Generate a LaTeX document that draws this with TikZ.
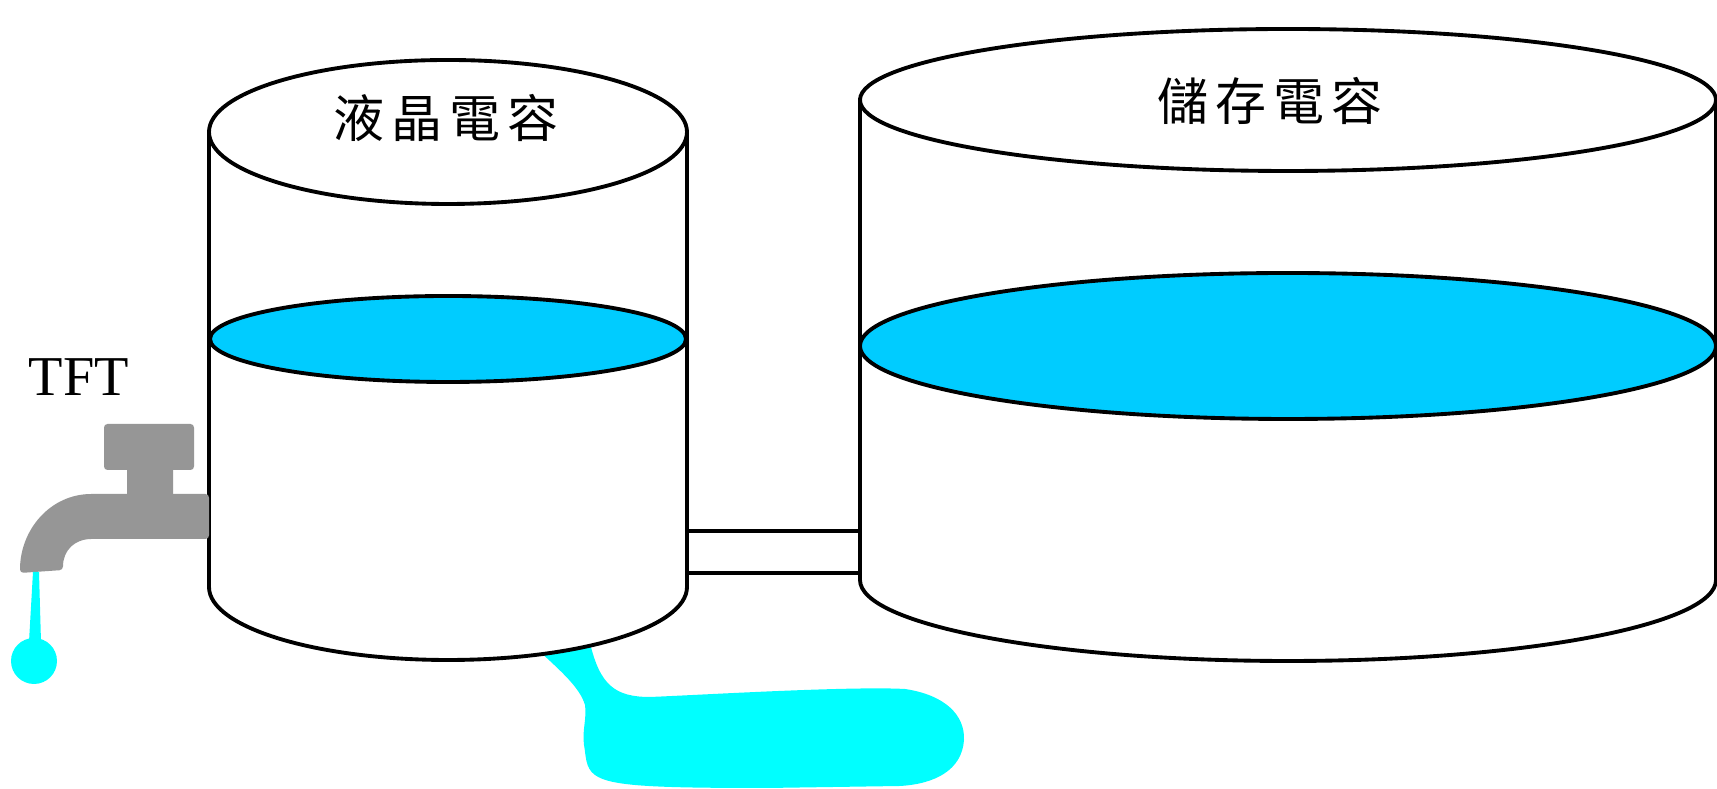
\documentclass[tikz,border=0pt]{standalone}
\usepackage{fontspec}
\newfontfamily\cjk[LetterSpace=14]{Noto Sans CJK TC}
\newfontfamily\tnr{Liberation Serif}
\definecolor{level}{RGB}{0,204,255}
\definecolor{spill}{RGB}{0,255,255}
\definecolor{tapgray}{RGB}{150,150,150}
\tikzset{
  tank/.style={draw,line width=1.1pt,fill=white},
  liquid/.style={draw,line width=1.1pt,fill=level},
  tap/.style={fill=tapgray,rounded corners=1pt},
  leak/.style={fill=spill},
  tanklabel/.style={inner sep=0pt,font={\cjk\fontsize{14.5pt}{16pt}\selectfont}}
}

\begin{document}
\begin{tikzpicture}[x=0.01cm,y=-0.01cm]
  \useasboundingbox[fill=white] (0,0) rectangle (1717,789);

  % water running out under the small tank
  \fill[leak] (538,650) .. controls (562,672) and (580,688) .. (585,705)
    .. controls (587,718) and (582,730) .. (584,745)
    .. controls (586,755) and (585,768) .. (595,775)
    .. controls (610,786) and (650,788) .. (767,788)
    -- (900,786) .. controls (935,784) and (962,770) .. (964,740)
    .. controls (965,715) and (945,695) .. (905,689)
    .. controls (850,686) and (700,695) .. (650,697)
    .. controls (615,697) and (600,685) .. (590,643) -- cycle;

  % small tank
  \draw[tank] (209,132) -- (209,587)
    arc[start angle=180,end angle=0,x radius=239,y radius=73] -- (687,132) -- cycle;
  \draw[liquid] (448,339) ellipse [x radius=238,y radius=43];
  \draw[tank] (448,132) ellipse [x radius=239,y radius=72];
  \node[tanklabel] (lc) at (446,118) {液晶電容};

  % pipe between the tanks
  \draw[tank] (687,531) rectangle (860,573);

  % big tank
  \draw[tank] (860,100) -- (860,580)
    arc[start angle=180,end angle=0,x radius=428,y radius=81] -- (1716,100) -- cycle;
  \draw[liquid] (1288,346) ellipse [x radius=428,y radius=73];
  \draw[tank] (1288,100) ellipse [x radius=428,y radius=71];
  \node[tanklabel] (cs) at (1270,101) {儲存電容};

  % tap
  \fill[tap] (104,424) rectangle (194,470);
  \fill[tap] (127,466) rectangle (173,498);
  \fill[tap] (209,494) -- (95,494) .. controls (50,494) and (20,530) .. (20,573)
    -- (63,570) .. controls (63,550) and (75,539) .. (95,539) -- (209,539) -- cycle;
  \node[font={\tnr\fontsize{16pt}{18pt}\selectfont},inner sep=0pt] (tft) at (79,377) {TFT};

  % drop
  \fill[leak] (33,572) -- (39,572) -- (41,642) -- (29,642) -- cycle;
  \fill[leak] (34,661) circle (23);
\end{tikzpicture}
\end{document}
